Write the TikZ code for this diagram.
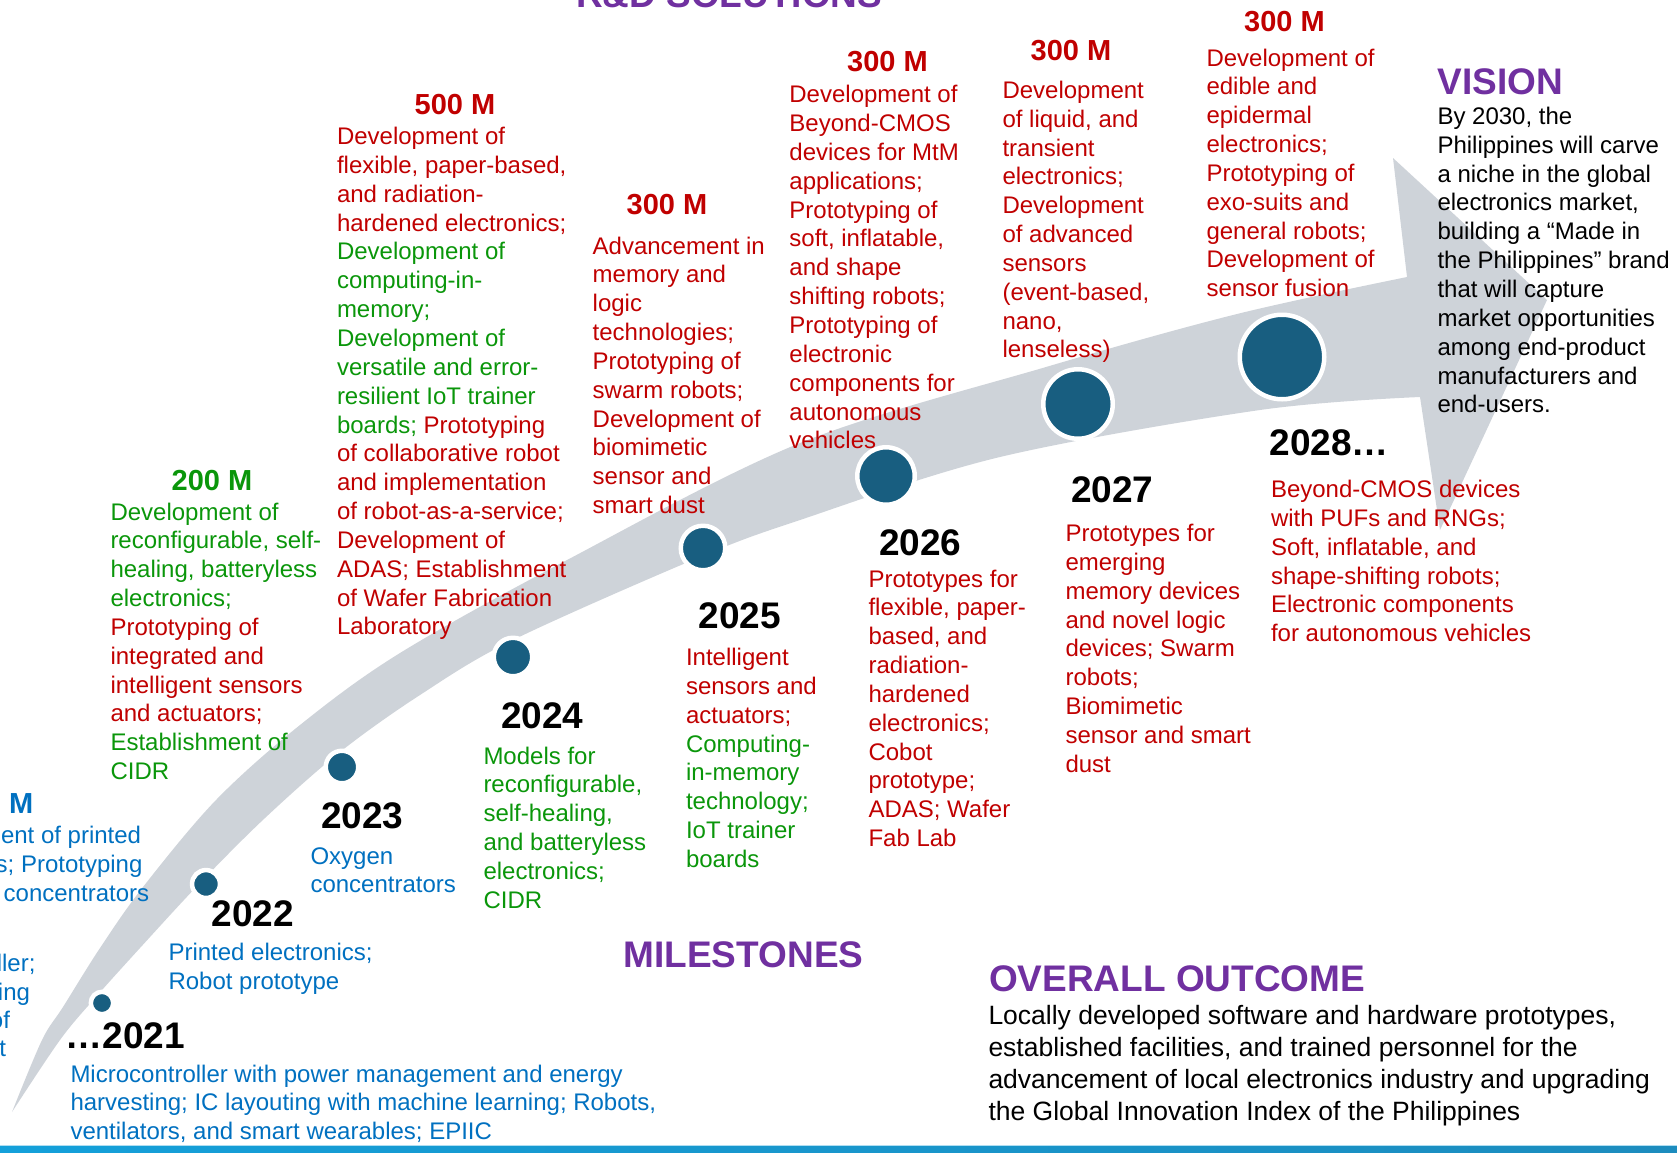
\documentclass[tikz,border=0pt]{standalone}
\usepackage{fontspec}
\setmainfont{Liberation Sans}

\definecolor{tred}{RGB}{192,0,0}
\definecolor{tgreen}{RGB}{10,150,10}
\definecolor{tblue}{RGB}{0,112,192}
\definecolor{tpurple}{RGB}{112,48,160}
\definecolor{dotblue}{RGB}{24,94,128}
\definecolor{bandgray}{RGB}{206,211,217}
\definecolor{barleft}{RGB}{20,160,218}
\definecolor{barmid}{RGB}{62,182,228}
\definecolor{barright}{RGB}{28,140,190}
\definecolor{barlight}{RGB}{175,222,242}

\newcommand\bodyfont{\fontsize{24}{28.85}\selectfont}
\newcommand\outfont{\fontsize{26.5}{32.1}\selectfont}
\newcommand\yearfont{\fontsize{37}{44}\selectfont\bfseries}
\newcommand\fundfont{\fontsize{29}{34}\selectfont\bfseries}
\newcommand\headfont{\fontsize{37}{44}\selectfont\bfseries}
% a block of lines whose box baseline is the first line's baseline
\newcommand\txtlines[2][28.85pt]{\vtop{\baselineskip=#1\lineskiplimit=-40pt\lineskip=0pt #2}}
\newcommand\tline[1]{\hbox{#1}}
\newcommand\gr[1]{\textcolor{tgreen}{#1}}
\newcommand\rd[1]{\textcolor{tred}{#1}}

\begin{document}
\begin{tikzpicture}[x=1pt,y=-1pt,
  every node/.style={inner sep=0pt, outer sep=0pt},
  txt/.style={anchor=base west, font=\bodyfont},
  fund/.style={anchor=base, font=\fundfont},
  year/.style={anchor=base west, font=\yearfont, text=black},
  head/.style={anchor=base west, font=\headfont, text=tpurple},
  dot/.style={circle, fill=dotblue, draw=white, line width=4.5pt}]
\useasboundingbox (0,0) rectangle (1677,1152);
\clip (0,0) rectangle (1677,1152);

% curved timeline arrow
\fill[bandgray] plot[smooth, tension=0.55] coordinates {(12,1112) (42,1040) (63,1007) (100,948) (143,887) (216,800) (300,725) (400,653) (567,560) (800,443) (1046,367) (1237,314) (1407,277)}
  -- (1393,158) -- (1547,300) -- (1440,530) -- (1420,397)
  -- plot[smooth, tension=0.55] coordinates {(1420,397) (1260,410) (1000,457) (800,520) (700,557) (513,640) (420,695) (340,752) (265,818) (200,883) (140,948) (95,998) (60,1040) (12,1112)} -- cycle;

% milestone dots
\node[dot, minimum size=22.4pt] (d2021) at (102,1003) {};
\node[dot, minimum size=27.9pt] (d2022) at (206,884) {};
\node[dot, minimum size=32.5pt] (d2023) at (342,767) {};
\node[dot, minimum size=38.5pt] (d2024) at (513,657) {};
\node[dot, minimum size=44.5pt] (d2025) at (703,548) {};
\node[dot, minimum size=57.5pt] (d2026) at (886,476) {};
\node[dot, minimum size=69.5pt] (d2027) at (1078,404) {};
\node[dot, minimum size=84.5pt] (d2028) at (1282,357) {};

% section headings
\node[head] (hrd) at (576,7) {R\&D SOLUTIONS};
\node[head] (hvision) at (1437.5,94) {VISION};
\node[head] (hmile) at (623.5,967) {MILESTONES};
\node[head] (hout) at (989,991) {OVERALL OUTCOME};

% funding amounts
\node[fund, text=tblue] (f100) at (-7,813) {100 M};
\node[fund, text=tgreen] (f200) at (212,490) {200 M};
\node[fund, text=tred] (f500) at (455,114.3) {500 M};
\node[fund, text=tred] (f300a) at (667,214.3) {300 M};
\node[fund, text=tred] (f300b) at (887.5,71.7) {300 M};
\node[fund, text=tred] (f300c) at (1071,60) {300 M};
\node[fund, text=tred] (f300d) at (1284.5,31) {300 M};

% R&D solution texts
\node[txt, text=tblue] (r100) at (-107,843.3) {\txtlines{%
  \tline{Development of printed}
  \tline{electronics; Prototyping}
  \tline{of oxygen concentrators}}};
\node[anchor=base east, font=\bodyfont, text=tblue] (r0a) at (35.5,971.7) {Microcontroller;};
\node[anchor=base east, font=\bodyfont, text=tblue] (r0b) at (30,1000) {IC layouting};
\node[anchor=base east, font=\bodyfont, text=tblue] (r0c) at (10,1028.3) {Prototyping of};
\node[anchor=base east, font=\bodyfont, text=tblue] (r0d) at (6,1056.7) {robot};

\node[txt, text=tgreen] (r200) at (110.5,520) {\txtlines{%
  \tline{Development of}
  \tline{reconfigurable, self-}
  \tline{healing, batteryless}
  \tline{electronics;}
  \tline{\rd{Prototyping of}}
  \tline{\rd{integrated and}}
  \tline{\rd{intelligent sensors}}
  \tline{\rd{and actuators;}}
  \tline{Establishment of}
  \tline{CIDR}}};

\node[txt, text=tred] (r500) at (337,144.5) {\txtlines{%
  \tline{Development of}
  \tline{flexible, paper-based,}
  \tline{and radiation-}
  \tline{hardened electronics;}
  \tline{\gr{Development of}}
  \tline{\gr{computing-in-}}
  \tline{\gr{memory;}}
  \tline{\gr{Development of}}
  \tline{\gr{versatile and error-}}
  \tline{\gr{resilient IoT trainer}}
  \tline{\gr{boards;} Prototyping}
  \tline{of collaborative robot}
  \tline{and implementation}
  \tline{of robot-as-a-service;}
  \tline{Development of}
  \tline{ADAS; Establishment}
  \tline{of Wafer Fabrication}
  \tline{Laboratory}}};

\node[txt, text=tred] (r300a) at (592.7,254) {\txtlines{%
  \tline{Advancement in}
  \tline{memory and}
  \tline{logic}
  \tline{technologies;}
  \tline{Prototyping of}
  \tline{swarm robots;}
  \tline{Development of}
  \tline{biomimetic}
  \tline{sensor and}
  \tline{smart dust}}};

\node[txt, text=tred] (r300b) at (789.4,102.7) {\txtlines{%
  \tline{Development of}
  \tline{Beyond-CMOS}
  \tline{devices for MtM}
  \tline{applications;}
  \tline{Prototyping of}
  \tline{soft, inflatable,}
  \tline{and shape}
  \tline{shifting robots;}
  \tline{Prototyping of}
  \tline{electronic}
  \tline{components for}
  \tline{autonomous}
  \tline{vehicles}}};

\node[txt, text=tred] (r300c) at (1002.5,98.3) {\txtlines{%
  \tline{Development}
  \tline{of liquid, and}
  \tline{transient}
  \tline{electronics;}
  \tline{Development}
  \tline{of advanced}
  \tline{sensors}
  \tline{(event-based,}
  \tline{nano,}
  \tline{lenseless)}}};

\node[txt, text=tred] (r300d) at (1206.5,66) {\txtlines{%
  \tline{Development of}
  \tline{edible and}
  \tline{epidermal}
  \tline{electronics;}
  \tline{Prototyping of}
  \tline{exo-suits and}
  \tline{general robots;}
  \tline{Development of}
  \tline{sensor fusion}}};

% vision statement
\node[txt, text=black] (vis) at (1437.5,124.4) {\txtlines{%
  \tline{By 2030, the}
  \tline{Philippines will carve}
  \tline{a niche in the global}
  \tline{electronics market,}
  \tline{building a “Made in}
  \tline{the Philippines” brand}
  \tline{that will capture}
  \tline{market opportunities}
  \tline{among end-product}
  \tline{manufacturers and}
  \tline{end-users.}}};

% milestones
\node[year] (y2021) at (65.5,1048.3) {…2021};
\node[txt, text=tblue] (m2021) at (70.5,1082) {\txtlines[28.6pt]{%
  \tline{Microcontroller with power management and energy}
  \tline{harvesting; IC layouting with machine learning; Robots,}
  \tline{ventilators, and smart wearables; EPIIC}}};

\node[year] (y2022) at (211.5,926.7) {2022};
\node[txt, text=tblue] (m2022) at (168.5,960.5) {\txtlines[28.6pt]{%
  \tline{Printed electronics;}
  \tline{Robot prototype}}};

\node[year] (y2023) at (321,828.3) {2023};
\node[txt, text=tblue] (m2023) at (310.5,864) {\txtlines[28.6pt]{%
  \tline{Oxygen}
  \tline{concentrators}}};

\node[year] (y2024) at (501,728.8) {2024};
\node[txt, text=tgreen] (m2024) at (483.5,764) {\txtlines{%
  \tline{Models for}
  \tline{reconfigurable,}
  \tline{self-healing,}
  \tline{and batteryless}
  \tline{electronics;}
  \tline{CIDR}}};

\node[year] (y2025) at (698.5,628.8) {2025};
\node[txt, text=tred] (m2025) at (686,665.5) {\txtlines{%
  \tline{Intelligent}
  \tline{sensors and}
  \tline{actuators;}
  \tline{\gr{Computing-}}
  \tline{\gr{in-memory}}
  \tline{\gr{technology;}}
  \tline{\gr{IoT trainer}}
  \tline{\gr{boards}}}};

\node[year] (y2026) at (879,555.5) {2026};
\node[txt, text=tred] (m2026) at (868.5,587) {\txtlines{%
  \tline{Prototypes for}
  \tline{flexible, paper-}
  \tline{based, and}
  \tline{radiation-}
  \tline{hardened}
  \tline{electronics;}
  \tline{Cobot}
  \tline{prototype;}
  \tline{ADAS; Wafer}
  \tline{Fab Lab}}};

\node[year] (y2027) at (1071,502) {2027};
\node[txt, text=tred] (m2027) at (1065.5,541.5) {\txtlines{%
  \tline{Prototypes for}
  \tline{emerging}
  \tline{memory devices}
  \tline{and novel logic}
  \tline{devices; Swarm}
  \tline{robots;}
  \tline{Biomimetic}
  \tline{sensor and smart}
  \tline{dust}}};

\node[year] (y2028) at (1269.5,455) {2028…};
\node[txt, text=tred] (m2028) at (1271,497.5) {\txtlines{%
  \tline{Beyond-CMOS devices}
  \tline{with PUFs and RNGs;}
  \tline{Soft, inflatable, and}
  \tline{shape-shifting robots;}
  \tline{Electronic components}
  \tline{for autonomous vehicles}}};

% overall outcome
\node[anchor=base west, font=\outfont, text=black] (outc) at (988.5,1024.5) {\txtlines[32.1pt]{%
  \tline{Locally developed software and hardware prototypes,}
  \tline{established facilities, and trained personnel for the}
  \tline{advancement of local electronics industry and upgrading}
  \tline{the Global Innovation Index of the Philippines}}};

% footer bar
\fill[barlight] (0,1144.5) rectangle (1677,1146.5);
\shade[left color=barleft, middle color=barmid, right color=barright] (0,1146.5) rectangle (1677,1152);
\end{tikzpicture}
\end{document}
